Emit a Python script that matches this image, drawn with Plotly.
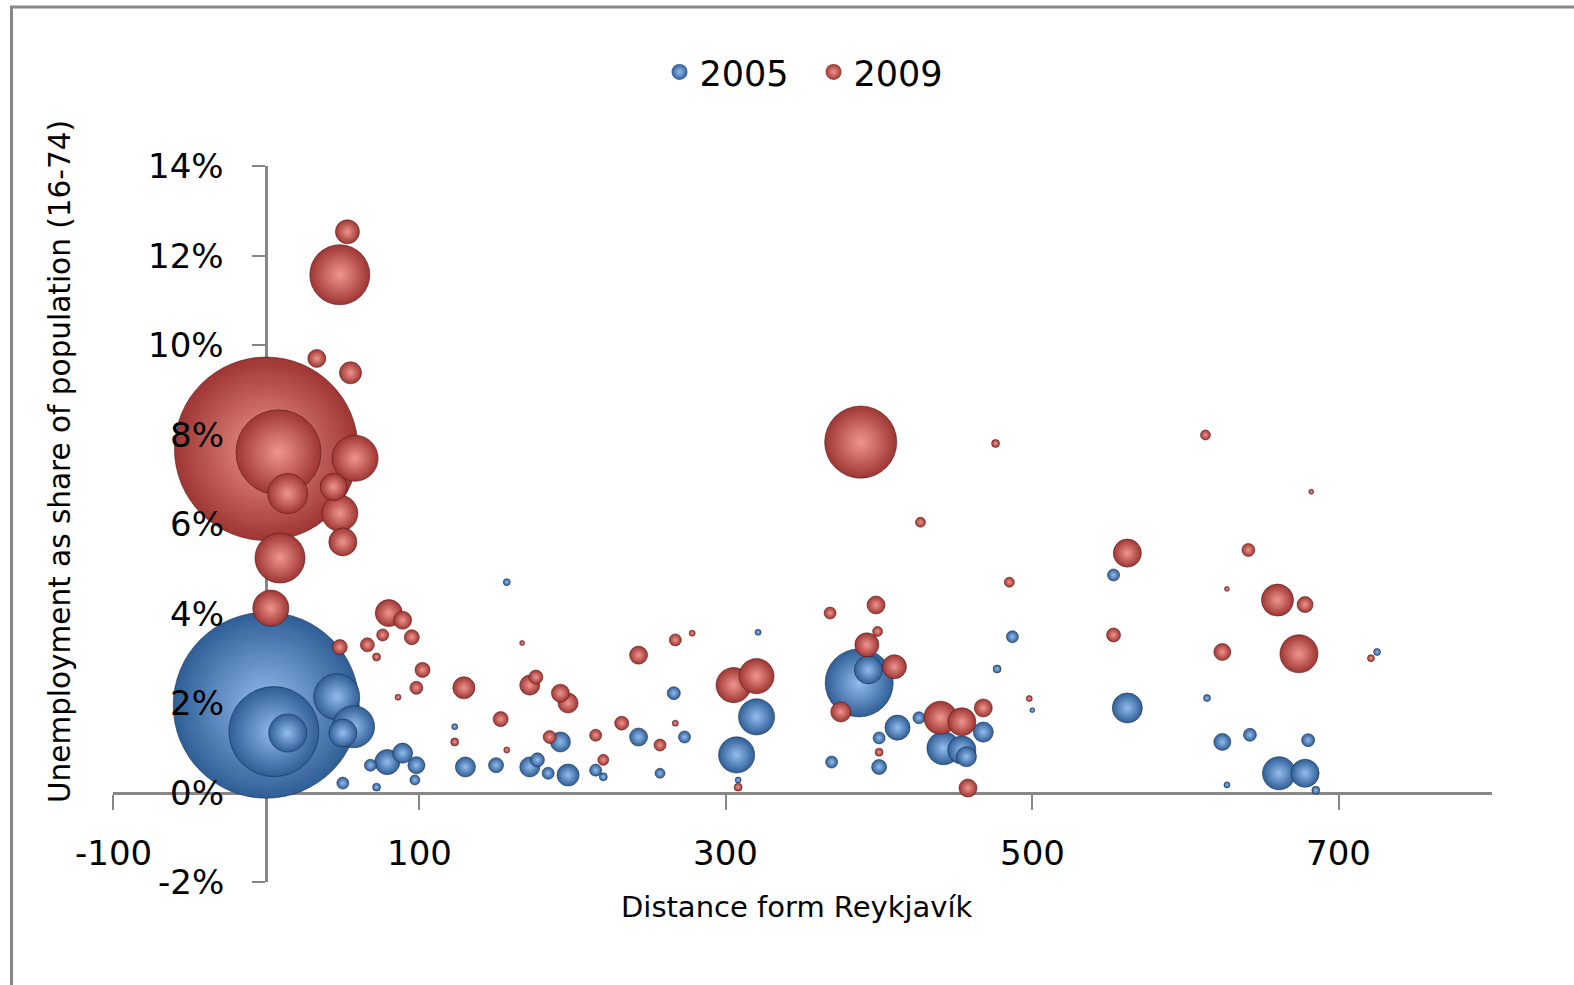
import plotly.graph_objects as go

# Municipalities: distance from Reykjavík (km), unemployment as share of
# population aged 16-74 (%), and population (thousands) used for bubble area.
dist_2005 = [0, 5, 14, 46, 57, 50, 68, 79, 89, 98, 50, 97, 72, 123, 130, 150,
             172, 177, 184, 197, 192, 215, 220, 243, 257, 266, 273, 157, 307,
             320, 308, 321, 387, 393, 412, 426, 400, 400, 369, 442, 454, 457,
             468, 487, 477, 500, 562, 553, 614, 624, 642, 680, 627, 661, 678,
             685, 725]
unemp_2005 = [1.95, 1.36, 1.33, 2.14, 1.47, 1.33, 0.61, 0.68, 0.88, 0.61, 0.21,
              0.28, 0.12, 1.47, 0.57, 0.61, 0.57, 0.73, 0.43, 0.39, 1.13, 0.50,
              0.35, 1.24, 0.43, 2.22, 1.24, 4.70, 0.84, 1.69, 0.28, 3.58, 2.45,
              2.74, 1.45, 1.67, 1.22, 0.57, 0.68, 0.99, 0.95, 0.80, 1.35, 3.48,
              2.76, 1.84, 1.89, 4.86, 2.11, 1.13, 1.29, 1.17, 0.17, 0.43, 0.43,
              0.05, 3.14]
pop_2005 = [115.0, 27.0, 4.82, 7.06, 5.89, 2.62, 0.48, 2.09, 1.34, 0.96, 0.48,
            0.33, 0.21, 0.12, 1.34, 0.75, 1.34, 0.65, 0.48, 1.62, 1.34, 0.48,
            0.21, 1.08, 0.33, 0.56, 0.48, 0.16, 4.33, 4.33, 0.12, 0.12, 15.4,
            2.62, 2.09, 0.48, 0.48, 0.75, 0.48, 3.64, 2.62, 1.34, 1.34, 0.48,
            0.21, 0.08, 3.00, 0.48, 0.16, 0.96, 0.56, 0.56, 0.12, 3.64, 2.62,
            0.21, 0.16]

dist_2009 = [0, 8, 14, 58, 44, 48, 50, 9, 48, 53, 33, 55, 3, 80, 89, 95, 76, 66,
             72, 48, 102, 98, 86, 129, 172, 176, 192, 197, 153, 185, 215, 232,
             257, 220, 243, 267, 278, 167, 123, 157, 267, 305, 320, 392, 399,
             410, 375, 398, 368, 388, 427, 476, 485, 562, 553, 440, 454, 468,
             400, 458, 498, 613, 682, 641, 627, 660, 678, 624, 674, 721, 308]
unemp_2009 = [7.68, 7.60, 6.68, 7.47, 6.83, 6.24, 5.60, 5.24, 11.57, 12.53, 9.70,
              9.38, 4.12, 4.01, 3.85, 3.47, 3.52, 3.30, 3.03, 3.25, 2.74, 2.34,
              2.13, 2.34, 2.40, 2.58, 2.22, 2.00, 1.64, 1.24, 1.28, 1.55, 1.06,
              0.73, 3.07, 3.41, 3.56, 3.34, 1.13, 0.95, 1.55, 2.40, 2.60, 3.30,
              3.60, 2.81, 1.80, 4.19, 4.01, 7.83, 6.04, 7.80, 4.70, 5.35, 3.52,
              1.67, 1.58, 1.89, 0.90, 0.10, 2.10, 7.99, 6.72, 5.42, 4.55, 4.30,
              4.20, 3.14, 3.10, 3.00, 0.12]
pop_2009 = [112.0, 24.1, 5.34, 7.06, 2.43, 4.33, 2.62, 8.35, 12.0, 1.92, 1.08,
            1.62, 4.33, 2.43, 1.08, 0.75, 0.48, 0.65, 0.21, 0.75, 0.75, 0.56,
            0.12, 1.62, 1.34, 0.65, 1.08, 1.34, 0.75, 0.56, 0.48, 0.65, 0.48,
            0.40, 1.08, 0.48, 0.12, 0.08, 0.21, 0.12, 0.12, 4.09, 4.09, 1.92,
            0.33, 1.92, 1.34, 1.08, 0.48, 17.3, 0.33, 0.21, 0.33, 2.62, 0.65,
            3.64, 2.62, 1.08, 0.21, 1.08, 0.12, 0.33, 0.08, 0.56, 0.08, 3.42,
            0.85, 0.96, 4.82, 0.16, 0.21]

x_range = [-100, 800]
y_range = [-2, 14]
x_tick_vals = [-100, 100, 300, 500, 700]
y_tick_vals = [-2, 0, 2, 4, 6, 8, 10, 12, 14]

FONT = "DejaVu Sans"
AXIS_GREY = "#878787"
MAX_BUBBLE_PX = 186
size_ref = 2.0 * max(pop_2005 + pop_2009) / MAX_BUBBLE_PX ** 2


def largest_first(xs, ys, ps):
    order = sorted(range(len(ps)), key=lambda i: -ps[i])
    return ([xs[i] for i in order], [ys[i] for i in order],
            [ps[i] for i in order])


series = [
    ("2005", dist_2005, unemp_2005, pop_2005, "#2F5E96", "#93BDEE",
     "rgba(20,40,75,0.55)"),
    ("2009", dist_2009, unemp_2009, pop_2009, "#9E3633", "#F0958F",
     "rgba(80,20,20,0.55)"),
]

fig = go.Figure()
for name, xs, ys, ps, edge, centre, rim in series:
    sx, sy, sp = largest_first(xs, ys, ps)
    fig.add_trace(go.Scatter(
        x=sx, y=sy, mode="markers", name=name, legendgroup=name,
        showlegend=False, cliponaxis=False,
        marker=dict(size=sp, sizemode="area", sizeref=size_ref, color=edge,
                    gradient=dict(type="radial", color=centre),
                    line=dict(width=1, color=rim), opacity=1),
        hovertemplate="%{x} km<br>%{y:.1f}%<extra>" + name + "</extra>",
    ))
    # legend key for the series
    fig.add_trace(go.Scatter(
        x=[None], y=[None], mode="markers", name=name, legendgroup=name,
        marker=dict(size=16, color=edge,
                    gradient=dict(type="radial", color=centre),
                    line=dict(width=0)),
    ))

annotations = []
for v in y_tick_vals:
    annotations.append(dict(
        x=0, y=v, xref="x", yref="y", text=f"{v}%", showarrow=False,
        xanchor="right", yanchor="middle", xshift=-40,
        font=dict(family=FONT, size=34, color="#000")))
for v in x_tick_vals:
    annotations.append(dict(
        x=v, y=0, xref="x", yref="y", text=str(v), showarrow=False,
        xanchor="center", yanchor="middle", yshift=-60,
        font=dict(family=FONT, size=34, color="#000")))
annotations.append(dict(
    x=0.496, y=-0.0345, xref="paper", yref="paper",
    text="Distance form Reykjavík", showarrow=False,
    xanchor="center", yanchor="middle",
    font=dict(family=FONT, size=29, color="#000")))
annotations.append(dict(
    x=-0.0384, y=0.5866, xref="paper", yref="paper",
    text="Unemployment as share of population (16-74)", showarrow=False,
    textangle=-90, xanchor="center", yanchor="middle",
    font=dict(family=FONT, size=29.5, color="#000")))

x_cross = (0 - x_range[0]) / (x_range[1] - x_range[0])
y_cross = (0 - y_range[0]) / (y_range[1] - y_range[0])

fig.update_layout(
    width=1574, height=985,
    margin=dict(l=113, r=82, t=166, b=103),
    paper_bgcolor="white", plot_bgcolor="white",
    font=dict(family=FONT, color="#000"),
    xaxis=dict(range=x_range, anchor="free", position=y_cross,
               showline=True, linecolor=AXIS_GREY, linewidth=3,
               ticks="outside", ticklen=15, tickwidth=2, tickcolor=AXIS_GREY,
               tickmode="array", tickvals=x_tick_vals, showticklabels=False,
               showgrid=False, zeroline=False, layer="below traces"),
    yaxis=dict(range=y_range, anchor="free", position=x_cross,
               showline=True, linecolor=AXIS_GREY, linewidth=3,
               ticks="outside", ticklen=13, tickwidth=2, tickcolor=AXIS_GREY,
               tickmode="array", tickvals=y_tick_vals, showticklabels=False,
               showgrid=False, zeroline=False, layer="below traces"),
    showlegend=True,
    legend=dict(orientation="h", x=0.508, xanchor="center", y=1.131,
                yanchor="middle", itemsizing="trace", entrywidth=109,
                entrywidthmode="pixels",
                font=dict(family=FONT, size=35, color="#000"),
                bgcolor="rgba(0,0,0,0)"),
    annotations=annotations,
    shapes=[dict(type="path", xref="paper", yref="paper",
                 path="M -0.0736 -0.3 L -0.0736 1.2221 L 1.2 1.2221",
                 line=dict(color=AXIS_GREY, width=3))],
)

fig.write_html("out.html")
